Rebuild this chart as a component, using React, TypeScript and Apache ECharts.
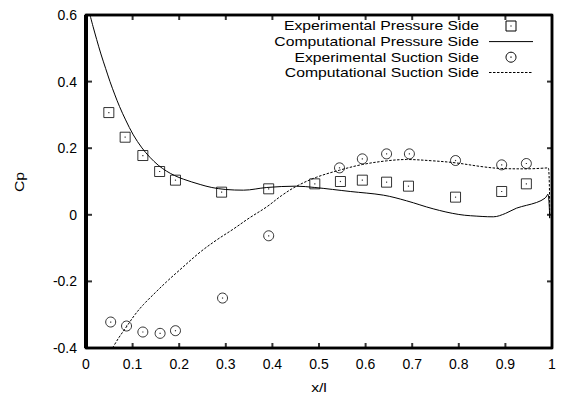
import React, { useEffect, useRef } from "react";
import * as echarts from "echarts";

const xTicks = [0, 0.1, 0.2, 0.3, 0.4, 0.5, 0.6, 0.7, 0.8, 0.9, 1];
const yTicks = [-0.4, -0.2, 0, 0.2, 0.4, 0.6];

const expPressureX = [0.049, 0.084, 0.122, 0.158, 0.192, 0.291, 0.392, 0.491, 0.546, 0.593, 0.645, 0.692, 0.793, 0.892, 0.945];
const expPressureY = [0.307, 0.233, 0.178, 0.130, 0.104, 0.068, 0.078, 0.093, 0.100, 0.104, 0.098, 0.086, 0.053, 0.070, 0.093];

const expSuctionX = [0.053, 0.087, 0.122, 0.159, 0.192, 0.293, 0.392, 0.544, 0.593, 0.645, 0.694, 0.793, 0.892, 0.945];
const expSuctionY = [-0.322, -0.334, -0.352, -0.356, -0.348, -0.25, -0.063, 0.141, 0.168, 0.183, 0.183, 0.163, 0.150, 0.154];

const compPressureX = [0.0086, 0.015, 0.023, 0.032, 0.042, 0.0515, 0.062, 0.072, 0.085, 0.1015, 0.12, 0.137, 0.155, 0.173, 0.19, 0.209, 0.245, 0.27, 0.3, 0.338, 0.388, 0.45, 0.491, 0.567, 0.638, 0.688, 0.745, 0.8, 0.85, 0.874, 0.9, 0.924, 0.967, 0.985, 0.991, 0.995];
const compPressureY = [0.6, 0.566, 0.526, 0.483, 0.44, 0.4, 0.36, 0.325, 0.285, 0.24, 0.201, 0.173, 0.149, 0.131, 0.118, 0.107, 0.091, 0.082, 0.076, 0.074, 0.082, 0.086, 0.082, 0.07, 0.059, 0.042, 0.018, 0.001, -0.005, -0.006, 0.004, 0.02, 0.037, 0.05, 0.062, -0.01];

const compSuctionX = [0.057, 0.07, 0.087, 0.105, 0.123, 0.15, 0.173, 0.2, 0.245, 0.28, 0.316, 0.35, 0.388, 0.42, 0.452, 0.495, 0.544, 0.593, 0.645, 0.688, 0.745, 0.793, 0.853, 0.892, 0.945, 0.992, 0.995];
const compSuctionY = [-0.4, -0.37, -0.336, -0.3, -0.27, -0.232, -0.201, -0.167, -0.112, -0.076, -0.043, -0.01, 0.024, 0.058, 0.086, 0.113, 0.134, 0.151, 0.162, 0.166, 0.162, 0.156, 0.144, 0.139, 0.138, 0.141, -0.01];

const legendLabels = [
  "Experimental Pressure Side",
  "Computational Pressure Side",
  "Experimental Suction Side",
  "Computational Suction Side",
];

const zip = (xs: number[], ys: number[]) => xs.map((x, i) => [x, ys[i]]);

const FONT = "Liberation Sans, Arial, Helvetica, sans-serif";

export default function App() {
  const ref = useRef<HTMLDivElement>(null);
  useEffect(() => {
    if (!ref.current) return;
    const chart = echarts.init(ref.current, null, { renderer: "svg" });
    // the chart div sits inside the body's 8px margin
    const legendY = [18, 33.6, 49.2, 64.5];
    const textRight = 471;
    const sampleX1 = 481;
    const sampleX2 = 525;
    const sampleCx = 503;
    const graphics: any[] = [];
    legendLabels.forEach((label, i) => {
      graphics.push({
        type: "text",
        x: textRight,
        y: legendY[i],
        scaleX: 1.25,
        style: { text: label, fill: "#000", font: `12.6px ${FONT}`, textAlign: "right", textVerticalAlign: "middle" },
      });
    });
    graphics.push({ type: "rect", shape: { x: sampleCx - 5, y: legendY[0] - 5, width: 10, height: 10 }, style: { fill: "none", stroke: "#000", lineWidth: 1 } });
    graphics.push({ type: "rect", shape: { x: sampleCx - 0.6, y: legendY[0] - 0.6, width: 1.2, height: 1.2 }, style: { fill: "#000" } });
    graphics.push({ type: "line", shape: { x1: sampleX1, y1: legendY[1], x2: sampleX2, y2: legendY[1] }, style: { stroke: "#000", lineWidth: 1 } });
    graphics.push({ type: "circle", shape: { cx: sampleCx, cy: legendY[2], r: 5 }, style: { fill: "none", stroke: "#000", lineWidth: 1 } });
    graphics.push({ type: "rect", shape: { x: sampleCx - 0.6, y: legendY[2] - 0.6, width: 1.2, height: 1.2 }, style: { fill: "#000" } });
    graphics.push({ type: "line", shape: { x1: sampleX1, y1: legendY[3], x2: sampleX2, y2: legendY[3] }, style: { stroke: "#000", lineWidth: 1, lineDash: [2.5, 1.5] } });
    graphics.push({
      type: "text",
      x: 12,
      y: 174,
      rotation: Math.PI / 2,
      scaleX: 1.25,
      style: { text: "Cp", fill: "#000", font: `12.6px ${FONT}`, textAlign: "center", textVerticalAlign: "middle" },
    });
    graphics.push({
      type: "text",
      x: 311,
      y: 380,
      scaleX: 1.25,
      style: { text: "x/l", fill: "#000", font: `12.6px ${FONT}`, textAlign: "center", textVerticalAlign: "middle" },
    });

    const xMin = xTicks[0];
    const xMax = xTicks[xTicks.length - 1];
    const yMin = yTicks[0];
    const yMax = yTicks[yTicks.length - 1];

    const tickSeries = (data: number[][], size: number[], offset: number[]) => ({
      type: "scatter",
      silent: true,
      clip: false,
      data,
      symbol: "rect",
      symbolSize: size,
      symbolOffset: offset,
      itemStyle: { color: "#000" },
      z: 10,
    });

    const labelStyle = { show: true, color: "#000", fontSize: 14, fontFamily: FONT, margin: 9 };
    chart.setOption({
      animation: false,
      grid: { left: 78, right: 14, top: 5, bottom: 55, show: true, borderColor: "#000", borderWidth: 2.5 },
      xAxis: {
        type: "value",
        min: xMin,
        max: xMax,
        interval: 0.1,
        splitLine: { show: false },
        axisTick: { show: false },
        axisLine: { show: false },
        axisLabel: {
          ...labelStyle,
          formatter: (v: number) => {
            const t = xTicks.find((x) => Math.abs(x - v) < 1e-6);
            return t === undefined ? "" : String(t);
          },
        },
      },
      yAxis: {
        type: "value",
        min: yMin,
        max: yMax,
        interval: 0.2,
        splitLine: { show: false },
        axisTick: { show: false },
        axisLine: { show: false },
        axisLabel: {
          ...labelStyle,
          formatter: (v: number) => {
            const t = yTicks.find((y) => Math.abs(y - v) < 1e-6);
            return t === undefined ? "" : String(t);
          },
        },
      },
      series: [
        {
          name: legendLabels[1],
          type: "line",
          data: zip(compPressureX, compPressureY),
          showSymbol: false,
          symbol: "none",
          smooth: 0.35,
          lineStyle: { color: "#000", width: 1 },
        },
        {
          name: legendLabels[3],
          type: "line",
          data: zip(compSuctionX, compSuctionY),
          showSymbol: false,
          symbol: "none",
          smooth: 0.35,
          lineStyle: { color: "#000", width: 1, type: [2.5, 1.5] },
        },
        {
          name: legendLabels[0],
          type: "scatter",
          data: zip(expPressureX, expPressureY),
          symbol: "rect",
          symbolSize: 10,
          itemStyle: { color: "rgba(255,255,255,0)", borderColor: "#000", borderWidth: 1 },
        },
        {
          name: legendLabels[2],
          type: "scatter",
          data: zip(expSuctionX, expSuctionY),
          symbol: "circle",
          symbolSize: 10,
          itemStyle: { color: "rgba(255,255,255,0)", borderColor: "#000", borderWidth: 1 },
        },
        {
          name: legendLabels[0] + " centre",
          type: "scatter",
          data: zip(expPressureX, expPressureY),
          symbol: "rect",
          symbolSize: 1.2,
          itemStyle: { color: "#000" },
        },
        {
          name: legendLabels[2] + " centre",
          type: "scatter",
          data: zip(expSuctionX, expSuctionY),
          symbol: "rect",
          symbolSize: 1.2,
          itemStyle: { color: "#000" },
        },
        // plot frame, drawn through the axes' scales
        {
          name: "frame",
          type: "line",
          silent: true,
          clip: false,
          showSymbol: false,
          symbol: "none",
          z: 10,
          data: [[xMin, yMin], [xMax, yMin], [xMax, yMax], [xMin, yMax], [xMin, yMin]],
          lineStyle: { color: "#000", width: 2.5 },
        },
        {
          name: "frame left",
          type: "line",
          silent: true,
          clip: false,
          showSymbol: false,
          symbol: "none",
          z: 10,
          data: [[xMin, yMin], [xMin, yMax]],
          lineStyle: { color: "#000", width: 4 },
        },
        // inward ticks on all four sides
        tickSeries(xTicks.map((v) => [v, yMin]), [2, 5], [0, -2.5]),
        tickSeries(xTicks.map((v) => [v, yMax]), [2, 5], [0, 2.5]),
        tickSeries(yTicks.map((v) => [xMin, v]), [6, 2], [3, 0]),
        tickSeries(yTicks.map((v) => [xMax, v]), [5, 2], [-2.5, 0]),
      ],
      graphic: graphics,
    });
    return () => chart.dispose();
  }, []);
  return <div ref={ref} style={{ width: 558, height: 395 }} />;
}
